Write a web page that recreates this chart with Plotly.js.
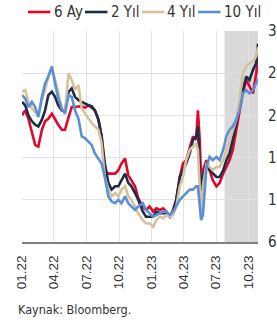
<!DOCTYPE html>
<html>
<head>
<meta charset="utf-8">
<script src="https://cdn.plot.ly/plotly-3.0.1.min.js"></script>
<style>html,body{margin:0;padding:0;background:#fff;}#chart{width:277px;height:324px;}</style>
</head>
<body>
<div id="chart"></div>
<script>
const dates = [
'2022-01-01','2022-01-10','2022-01-19','2022-01-29','2022-02-07','2022-02-16','2022-02-26','2022-03-07','2022-03-16','2022-03-26',
'2022-04-04','2022-04-13','2022-04-23','2022-05-02','2022-05-12','2022-05-21','2022-05-30','2022-06-09','2022-06-18','2022-06-27',
'2022-07-07','2022-07-16','2022-07-25','2022-08-04','2022-08-13','2022-08-22','2022-09-01','2022-09-10','2022-09-20','2022-09-29',
'2022-10-08','2022-10-18','2022-10-27','2022-11-05','2022-11-15','2022-11-24',
'2022-12-07','2022-12-16','2022-12-26','2023-01-05','2023-01-14','2023-01-24','2023-02-02','2023-02-11','2023-02-21','2023-03-02',
'2023-03-11','2023-03-21','2023-03-30','2023-04-08','2023-04-18','2023-04-27','2023-05-06','2023-05-11','2023-05-16','2023-05-20',
'2023-05-25','2023-06-04','2023-06-13','2023-06-22','2023-07-02','2023-07-11','2023-07-21','2023-07-30','2023-08-08','2023-08-17',
'2023-08-27','2023-09-05','2023-09-14','2023-09-24','2023-10-03','2023-10-13','2023-10-22','2023-10-27'
];
const ay6 = [
21.0,21.6,20.6,18.9,17.5,17.3,19.3,20.3,20.6,21.2,
20.5,19.9,19.3,19.3,20.8,22.0,22.0,22.1,22.1,21.9,
22.2,21.9,21.6,20.5,18.5,14.5,14.1,14.1,14.1,14.5,
15.3,15.9,13.9,13.3,12.6,11.2,
10.2,9.8,10.2,9.6,10.0,9.8,10.0,9.6,9.0,9.8,
11.0,13.7,15.3,15.7,17.3,18.5,18.1,21.6,18.1,13.3,
14.5,15.7,14.5,13.3,12.6,13.0,14.1,14.9,15.7,16.9,
19.3,21.6,23.6,25.2,24.4,23.6,26.0,27.6
];
const yil2 = [
22.6,22.2,21.0,20.3,19.9,19.7,20.5,21.6,23.4,23.8,
23.2,22.2,21.6,21.6,23.8,24.2,23.2,22.8,22.6,22.4,
22.2,22.1,21.6,20.5,18.5,15.3,13.0,12.2,12.6,12.6,
13.3,14.1,13.0,12.6,11.8,11.0,
9.6,9.0,9.0,9.0,9.6,9.4,9.4,9.4,9.0,9.6,
11.0,13.7,14.5,15.3,16.5,18.1,18.5,19.7,14.5,11.4,
13.7,15.3,14.5,14.1,13.7,13.7,14.5,15.7,16.5,18.1,
20.1,22.4,24.0,25.6,25.2,26.4,27.2,29.5
];
const yil4 = [
23.8,24.0,22.6,21.8,21.4,21.0,22.8,24.0,25.6,26.6,
25.2,23.8,21.8,21.4,26.0,25.2,24.0,24.6,21.8,21.2,
20.6,20.1,19.7,19.3,17.7,13.7,12.2,11.4,11.8,11.4,
12.2,12.6,11.4,11.0,10.2,9.4,
8.6,8.2,8.2,7.8,8.6,9.0,8.8,9.2,9.0,9.2,
10.2,12.6,13.7,15.7,16.9,17.3,17.7,16.9,12.2,9.0,
12.6,15.3,14.9,14.5,14.9,14.9,15.7,16.9,18.1,19.3,
20.5,22.8,26.0,26.8,27.2,27.4,28.0,29.1
];
const yil10 = [
23.4,23.0,22.0,22.6,22.0,20.8,23.2,24.8,25.6,26.8,
24.8,23.0,21.8,21.2,23.4,23.2,21.6,20.6,18.5,18.3,
17.9,17.5,16.5,15.9,15.3,13.7,11.4,10.8,10.6,11.0,
10.6,11.4,10.6,10.2,9.8,10.2,
10.6,9.8,9.4,9.0,9.2,9.4,9.6,9.6,9.2,9.6,
10.2,11.0,11.4,11.8,12.2,12.2,12.6,12.6,9.8,8.6,
9.2,14.9,16.1,15.7,16.1,15.7,16.9,18.5,19.3,19.7,
20.5,21.6,23.6,24.0,23.6,24.0,24.8,25.4
];
const seriesNames = ['6 Ay','2 Yıl','4 Yıl','10 Yıl'];
const seriesColors = ['#e2062f','#1d2d42','#d6c19e','#5b8fd6'];
const xTickVals = ['2022-01-01','2022-04-01','2022-07-01','2022-10-01','2023-01-01','2023-04-01','2023-07-01','2023-10-01'];
const xTickText = ['01.22','04.22','07.22','10.22','01.23','04.23','07.23','10.23'];
const yTickVals = [6,11,16,21,26,31];
const xRange = ['2022-01-01','2023-10-27'];
const shadeRange = ['2023-07-25','2023-10-27'];
const sourceText = 'Kaynak: Bloomberg.';

const NARROW = '"Liberation Sans Narrow", "DejaVu Sans Condensed", "Arial Narrow", sans-serif';
const allSeries = [ay6, yil2, yil4, yil10];
const traces = allSeries.map((s, i) => ({
  x: dates, y: s, type: 'scatter', mode: 'lines', name: seriesNames[i],
  line: {color: seriesColors[i], width: 2.6}, hoverinfo: 'skip'
}));

// custom legend (lines + text) in paper coordinates
const legX = [0.025, 0.267, 0.508, 0.746];
const legY = 1.09;
const shapes = [{
  type: 'rect', xref: 'x', yref: 'paper', x0: shadeRange[0], x1: shadeRange[1], y0: 0, y1: 1,
  fillcolor: '#d9d9d9', line: {width: 0}, layer: 'between'
}];
const annotations = [];
seriesNames.forEach((n, i) => {
  shapes.push({type: 'line', xref: 'paper', yref: 'paper', x0: legX[i], x1: legX[i] + 0.095, y0: legY, y1: legY,
    line: {color: seriesColors[i], width: 2.6}});
  annotations.push({xref: 'paper', yref: 'paper', x: legX[i] + 0.1, y: legY, xanchor: 'left', yanchor: 'middle',
    text: n, showarrow: false, font: {family: NARROW, size: 15, color: '#333'}});
});
annotations.push({xref: 'paper', yref: 'paper', x: -0.025, y: -0.318, xanchor: 'left', yanchor: 'middle',
  text: sourceText, showarrow: false, font: {family: NARROW, size: 12.5, color: '#333'}});

const layout = {
  width: 277, height: 324,
  margin: {l: 22, r: 19, t: 31, b: 82, pad: 0},
  paper_bgcolor: '#fff', plot_bgcolor: '#fff',
  showlegend: false,
  xaxis: {
    type: 'date', range: xRange, tickmode: 'array', tickvals: xTickVals, ticktext: xTickText,
    tickangle: -90, tickfont: {family: '"Liberation Sans", Arial, sans-serif', size: 13.5, color: '#333'},
    showgrid: true, gridcolor: '#e2e2e2', gridwidth: 1, showline: true, linecolor: '#808080', linewidth: 2,
    ticks: '', ticklabelstandoff: 6, zeroline: false
  },
  yaxis: {
    side: 'right', range: [6, 31], tickmode: 'array', tickvals: yTickVals,
    tickfont: {family: NARROW, size: 15, color: '#333'},
    showgrid: true, gridcolor: '#e2e2e2', gridwidth: 1, zeroline: false, showline: false,
    ticks: '', ticklabelstandoff: 9
  },
  shapes: shapes,
  annotations: annotations
};
Plotly.newPlot('chart', traces, layout, {staticPlot: true, displayModeBar: false});
</script>
</body>
</html>
